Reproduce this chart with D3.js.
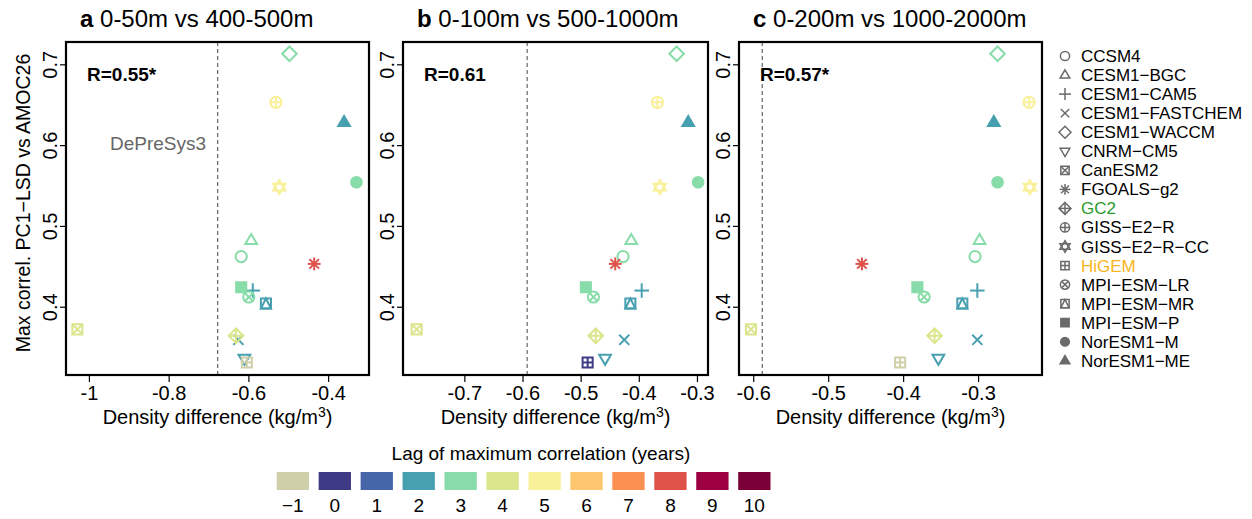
<!DOCTYPE html>
<html>
<head>
<meta charset="utf-8">
<script src="https://cdn.jsdelivr.net/npm/d3@7"></script>
<style>
  body { margin: 0; background: #fff; }
  svg { font-family: "Liberation Sans", Arial, Helvetica, sans-serif; }
</style>
</head>
<body>
<div id="chart"></div>
<script>
// models and their marker shapes (R pch codes)
const models = ["CCSM4", "CESM1−BGC", "CESM1−CAM5", "CESM1−FASTCHEM", "CESM1−WACCM", "CNRM−CM5",
  "CanESM2", "FGOALS−g2", "GC2", "GISS−E2−R", "GISS−E2−R−CC", "HiGEM",
  "MPI−ESM−LR", "MPI−ESM−MR", "MPI−ESM−P", "NorESM1−M", "NorESM1−ME"];
const pch = [1, 2, 3, 4, 5, 6, 7, 8, 9, 10, 11, 12, 13, 14, 15, 16, 17];

// max correlation PC1-LSD vs AMOC26 (same in every panel)
const maxCorr = [0.462, 0.482, 0.420, 0.359, 0.713, 0.336, 0.372, 0.453, 0.364, 0.653, 0.548, 0.331,
  0.412, 0.404, 0.424, 0.554, 0.628];

// density differences per panel (kg/m3)
const densA = [-0.618, -0.593, -0.589, -0.625, -0.497, -0.610, -1.029, -0.435, -0.631, -0.531, -0.5225, -0.604,
  -0.599, -0.556, -0.618, -0.329, -0.360];
const densB = [-0.427, -0.413, -0.395, -0.425, -0.335, -0.458, -0.782, -0.4405, -0.474, -0.368, -0.364, -0.488,
  -0.478, -0.4145, -0.491, -0.298, -0.315];
const densC = [-0.304, -0.298, -0.301, -0.301, -0.274, -0.353, -0.603, -0.455, -0.358, -0.232, -0.231, -0.404,
  -0.372, -0.321, -0.381, -0.274, -0.279];

// lag of maximum correlation (years) per panel
const lagA = [3, 3, 2, 2, 3, 2, 4, 8, 4, 5, 5, -1, 3, 2, 3, 3, 2];
const lagB = [3, 3, 2, 2, 3, 2, 4, 8, 4, 5, 5, 0, 3, 2, 3, 3, 2];
const lagC = [3, 3, 2, 2, 3, 2, 4, 8, 4, 5, 5, -1, 3, 2, 3, 3, 2];

// DePreSys3 reference value per panel
const depresys = [-0.677, -0.592, -0.588];
const panelTitles = [["a", " 0-50m vs 400-500m"], ["b", " 0-100m vs 500-1000m"], ["c", " 0-200m vs 1000-2000m"]];
const rLabels = ["R=0.55*", "R=0.61", "R=0.57*"];

const lagValues = [-1, 0, 1, 2, 3, 4, 5, 6, 7, 8, 9, 10];
const lagColors = ["#cfd0a9", "#3f3a86", "#4565a9", "#47a0b0", "#88dca9", "#dbe58b", "#f9f09a",
  "#fdc66f", "#fb9150", "#de5249", "#9e0141", "#7a0037"];

const xTicks = [[-1, -0.8, -0.6, -0.4], [-0.7, -0.6, -0.5, -0.4, -0.3], [-0.6, -0.5, -0.4, -0.3]];
const yTicks = [0.4, 0.5, 0.6, 0.7];

const width = 1252, height = 519;
const svg = d3.select("#chart").append("svg")
  .attr("width", width).attr("height", height);
svg.append("rect").attr("width", width).attr("height", height).attr("fill", "#fff");

const color = d3.scaleOrdinal().domain(lagValues).range(lagColors);

const panels = [
  { left: 66, right: 369, xDom: [-1.0575, -0.2975], dens: densA, lag: lagA },
  { left: 403, right: 708, xDom: [-0.8055, -0.281], dens: densB, lag: lagB },
  { left: 739, right: 1042, xDom: [-0.619, -0.2147], dens: densC, lag: lagC }
];
const plotTop = 42, plotBottom = 375;
const y = d3.scaleLinear().domain([0.3155, 0.7276]).range([plotBottom, plotTop]);

// draw one R-style plotting symbol
function marker(g, code, col, s, sw) {
  const line = (x1, y1, x2, y2) => g.append("line")
    .attr("x1", x1 * s).attr("y1", y1 * s).attr("x2", x2 * s).attr("y2", y2 * s)
    .attr("stroke", col).attr("stroke-width", sw);
  const poly = (pts, fill) => g.append("polygon")
    .attr("points", pts.map(p => [p[0] * s, p[1] * s].join(",")).join(" "))
    .attr("fill", fill ? col : "none").attr("stroke", col).attr("stroke-width", sw)
    .attr("stroke-linejoin", "miter");
  const circ = (r, fill) => g.append("circle").attr("r", r * s)
    .attr("fill", fill ? col : "none").attr("stroke", col).attr("stroke-width", sw);
  const sq = [[-0.9, -0.9], [0.9, -0.9], [0.9, 0.9], [-0.9, 0.9]];
  const up = [[0, -1.15], [1.05, 0.65], [-1.05, 0.65]];
  const down = [[0, 1.15], [1.05, -0.65], [-1.05, -0.65]];
  const dia = [[0, -1.3], [1.3, 0], [0, 1.3], [-1.3, 0]];
  switch (code) {
    case 1: circ(1); break;
    case 2: poly(up); break;
    case 3: line(-1.3, 0, 1.3, 0); line(0, -1.3, 0, 1.3); break;
    case 4: line(-0.9, -0.9, 0.9, 0.9); line(-0.9, 0.9, 0.9, -0.9); break;
    case 5: poly(dia); break;
    case 6: poly(down); break;
    case 7: poly(sq); line(-0.9, -0.9, 0.9, 0.9); line(-0.9, 0.9, 0.9, -0.9); break;
    case 8: line(-1.15, 0, 1.15, 0); line(0, -1.15, 0, 1.15); line(-0.85, -0.85, 0.85, 0.85); line(-0.85, 0.85, 0.85, -0.85); break;
    case 9: poly(dia); line(-1.3, 0, 1.3, 0); line(0, -1.3, 0, 1.3); break;
    case 10: circ(1); line(-1, 0, 1, 0); line(0, -1, 0, 1); break;
    case 11: poly([[0, -1.25], [1.1, 0.62], [-1.1, 0.62]]); poly([[0, 1.25], [1.1, -0.62], [-1.1, -0.62]]); break;
    case 12: poly(sq); line(-0.9, 0, 0.9, 0); line(0, -0.9, 0, 0.9); break;
    case 13: circ(1); line(-0.7, -0.7, 0.7, 0.7); line(-0.7, 0.7, 0.7, -0.7); break;
    case 14: poly(sq); poly([[0, -0.9], [0.9, 0.9], [-0.9, 0.9]]); break;
    case 15: poly(sq, true); break;
    case 16: circ(0.95, true); break;
    case 17: poly(up, true); break;
  }
}

panels.forEach((p, i) => {
  const x = d3.scaleLinear().domain(p.xDom).range([p.left, p.right]);
  const g = svg.append("g");

  // axes (outward ticks, no domain line; box drawn separately)
  const xAxis = g.append("g").attr("transform", `translate(0,${plotBottom})`)
    .call(d3.axisBottom(x).tickValues(xTicks[i]).tickSize(7).tickSizeOuter(0).tickFormat(d => `${d}`));
  xAxis.select(".domain").remove();
  xAxis.selectAll("line").attr("stroke", "#000").attr("stroke-width", 1.2);
  xAxis.selectAll("text").attr("fill", "#000").style("font-size", "20px").attr("y", 11);

  const yAxis = g.append("g").attr("transform", `translate(${p.left},0)`)
    .call(d3.axisLeft(y).tickValues(yTicks).tickSize(6).tickSizeOuter(0).tickFormat(d3.format(".1f")));
  yAxis.select(".domain").remove();
  yAxis.selectAll("line").attr("stroke", "#000").attr("stroke-width", 1.2);
  yAxis.selectAll("text").attr("fill", "#000").style("font-size", "20px")
    .attr("x", null).attr("dy", null).attr("text-anchor", "middle")
    .attr("transform", "translate(-9,0) rotate(-90)");

  // DePreSys3 dashed line
  g.append("line")
    .attr("x1", x(depresys[i])).attr("x2", x(depresys[i]))
    .attr("y1", plotTop).attr("y2", plotBottom)
    .attr("stroke", "#555").attr("stroke-width", 1.1).attr("stroke-dasharray", "4,3");

  // points
  models.forEach((m, k) => {
    const mg = g.append("g").attr("transform", `translate(${x(p.dens[k])},${y(maxCorr[k])})`);
    marker(mg, pch[k], color(p.lag[k]), 5.6, 2);
  });

  // box
  g.append("rect")
    .attr("x", p.left).attr("y", plotTop)
    .attr("width", p.right - p.left).attr("height", plotBottom - plotTop)
    .attr("fill", "none").attr("stroke", "#000").attr("stroke-width", 2.2);

  g.append("text").attr("x", p.left + 21).attr("y", 81)
    .style("font-size", "19px").style("font-weight", "bold").text(rLabels[i]);

  const t = g.append("text").attr("x", p.left + 14).attr("y", 27).style("font-size", "24px");
  t.append("tspan").style("font-weight", "bold").text(panelTitles[i][0]);
  t.append("tspan").text(panelTitles[i][1]);

  const xl = g.append("text").attr("x", (p.left + p.right) / 2).attr("y", 424)
    .attr("text-anchor", "middle").style("font-size", "20px");
  xl.append("tspan").text("Density difference (kg/m");
  xl.append("tspan").attr("dy", -7).style("font-size", "14px").text("3");
  xl.append("tspan").attr("dy", 7).text(")");

  if (i === 0) {
    g.append("text").attr("x", 158).attr("y", 150).attr("text-anchor", "middle")
      .attr("fill", "#666").style("font-size", "19px").text("DePreSys3");
  }
});

// y axis title
svg.append("text")
  .attr("transform", "translate(30,203) rotate(-90)")
  .attr("text-anchor", "middle").style("font-size", "19.5px")
  .text("Max correl. PC1−LSD vs AMOC26");

// legend of models
const legend = svg.append("g");
models.forEach((m, k) => {
  const yy = 56 + k * 19.05;
  marker(legend.append("g").attr("transform", `translate(1065,${yy})`), pch[k], "#6a6a6a", 4.6, 1.5);
  legend.append("text").attr("x", 1081).attr("y", yy + 6)
    .style("font-size", "17px")
    .attr("fill", m === "GC2" ? "#2b9a2b" : m === "HiGEM" ? "#f7b51c" : "#000")
    .text(m);
});

// colour bar for lag
const cb = svg.append("g");
const cbX = d3.scaleBand().domain(lagValues).range([276.7, 276.7 + 41.15 * 12]).paddingInner(0.23).paddingOuter(0);
cb.selectAll("rect").data(lagValues).join("rect")
  .attr("x", d => cbX(d)).attr("y", 472).attr("width", cbX.bandwidth()).attr("height", 18)
  .attr("fill", d => color(d));
cb.selectAll("text.lab").data(lagValues).join("text").attr("class", "lab")
  .attr("x", d => cbX(d) + cbX.bandwidth() / 2).attr("y", 512)
  .attr("text-anchor", "middle").style("font-size", "19px")
  .text(d => d < 0 ? `−${-d}` : d);
cb.append("text").attr("x", 541).attr("y", 460).attr("text-anchor", "middle")
  .style("font-size", "19px").text("Lag of maximum correlation (years)");
</script>
</body>
</html>
